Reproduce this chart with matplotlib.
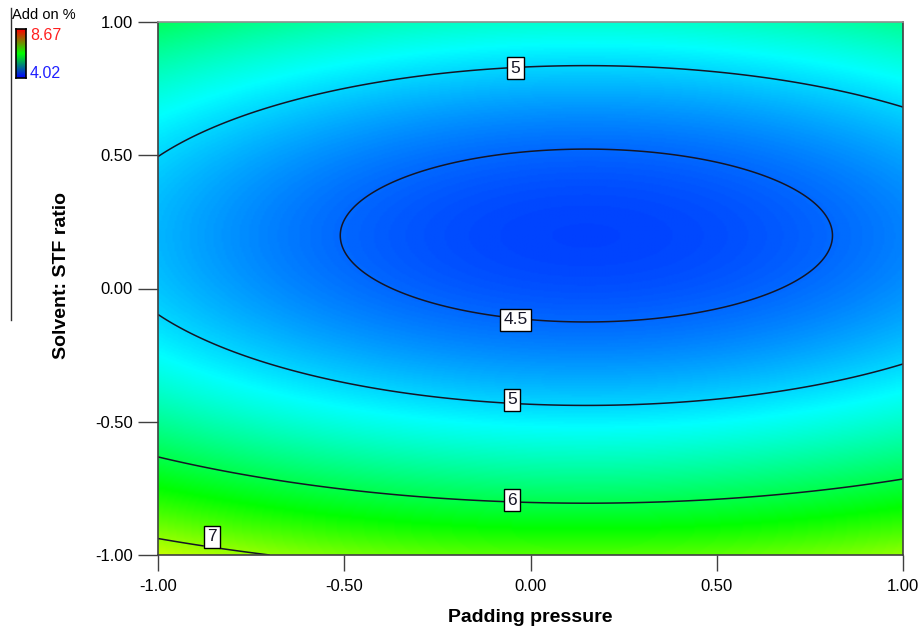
import numpy as np
import matplotlib.pyplot as plt
from matplotlib.colors import LinearSegmentedColormap, Normalize
from matplotlib.lines import Line2D

plt.rcParams['font.family'] = ['Liberation Sans', 'DejaVu Sans']

# fitted quadratic response surface (coded factors)
# A = padding pressure, B = solvent:STF ratio
model_terms = ["const", "A", "B", "A^2", "B^2"]
model_coefs = [4.40, -0.12, -0.66, 0.40, 1.66]

resp_min = 4.02   # design range of response (legend)
resp_max = 8.67
contour_levels = [4.5, 5, 6, 7]
tick_vals = [-1.0, -0.5, 0.0, 0.5, 1.0]

x_title = "Padding pressure"
y_title = "Solvent: STF ratio"
resp_title = "Add on %"


def predict(a, b):
    c = model_coefs
    return c[0] + c[1]*a + c[2]*b + c[3]*a**2 + c[4]*b**2


# Design-Expert style colours: blue -> cyan -> green -> yellow -> red
de_cmap = LinearSegmentedColormap.from_list(
    "de", ["#0000ff", "#00ffff", "#00ff00", "#ffff00", "#ff0000"])
leg_cmap = LinearSegmentedColormap.from_list(
    "leg", ["#0000ff", "#00ff00", "#ff0000"])

W, H = 919, 631
fig = plt.figure(figsize=(W/100, H/100), dpi=100)
ax = fig.add_axes([158/W, 1 - 555/H, 745/W, 533/H])

a = np.linspace(-1, 1, 400)
b = np.linspace(-1, 1, 400)
A, B = np.meshgrid(a, b)
Z = predict(A, B)

norm = Normalize(resp_min, resp_max)
ax.imshow(Z, origin="lower", extent=(-1, 1, -1, 1), cmap=de_cmap, norm=norm,
          aspect="auto", interpolation="bilinear")
cs = ax.contour(A, B, Z, levels=contour_levels, colors="#151525", linewidths=1.1)

# where the boxed labels sit (near the lines, as in the original)
label_spots = [(-0.04, 0.827), (-0.04, -0.118), (-0.05, -0.418), (-0.05, -0.794), (-0.855, -0.932)]
labels = ax.clabel(cs, contour_levels, manual=label_spots, inline=True,
                   inline_spacing=2, fmt=lambda v: f"{v:g}", fontsize=12.5)
for t in labels:
    tx, ty = t.get_position()
    spot = min(label_spots, key=lambda p: (p[0]-tx)**2 + (p[1]-ty)**2)
    t.set_position(spot)
    t.set_rotation(0)
    t.set_bbox(dict(boxstyle="square,pad=0.2", fc="white", ec="black", lw=1.0))

ax.set_xlim(-1, 1)
ax.set_ylim(-1, 1)
ax.set_xticks(tick_vals)
ax.set_yticks(tick_vals)
ax.set_xticklabels([f"{v:.2f}" for v in tick_vals])
ax.set_yticklabels([f"{v:.2f}" for v in tick_vals])
ax.tick_params(axis="x", length=11.5, width=1, color="#404040", pad=6, labelsize=12)
ax.tick_params(axis="y", length=14.5, width=1, color="#404040", pad=3.5, labelsize=12)
for side in ["left", "bottom", "right"]:
    ax.spines[side].set_color("#404040")
ax.spines["top"].set_color("#909090")
for s in ax.spines.values():
    s.set_linewidth(1.2)

fig.text(530/W, 1 - 617/H, x_title, ha="center", va="center",
         fontsize=14, fontweight="bold")
fig.text(62/W, 1 - 275/H, y_title, ha="center", va="center",
         rotation=90, fontsize=14, fontweight="bold")

# small legend at top left
fig.add_artist(Line2D([11/W, 11/W], [1 - 8/H, 1 - 320/H], color="#303030", lw=1))
fig.text(12/W, 1 - 15/H, resp_title, ha="left", va="center", fontsize=10.5)
lax = fig.add_axes([16/W, 1 - 78/H, 10/W, 49/H])
grad = np.linspace(resp_min, resp_max, 100).reshape(-1, 1)
lax.imshow(grad, origin="lower", aspect="auto", cmap=leg_cmap, norm=norm)
lax.set_xticks([])
lax.set_yticks([])
for s in lax.spines.values():
    s.set_linewidth(1.2)
fig.text(30/W, 1 - 35/H, f"{resp_max:.2f}", color="#ff2020", ha="left",
         va="center", fontsize=11.5)
fig.text(30/W, 1 - 73/H, f"{resp_min:.2f}", color="#2020ff", ha="left",
         va="center", fontsize=11.5)

fig.savefig("out.png", dpi=100)
